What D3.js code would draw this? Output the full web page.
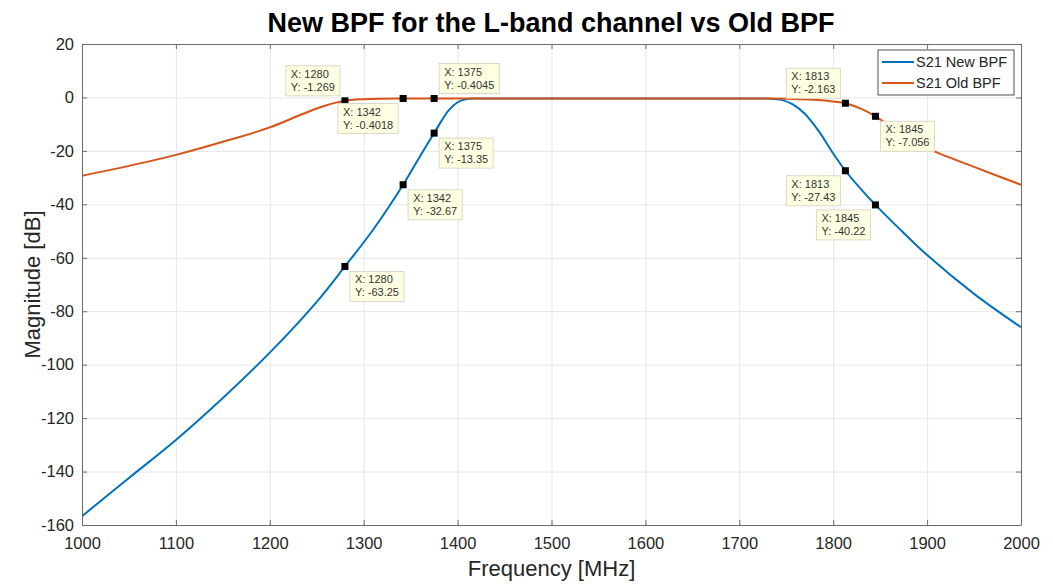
<!DOCTYPE html>
<html lang="en">
<head>
<meta charset="UTF-8">
<title>New BPF vs Old BPF</title>
<script src="https://d3js.org/d3.v7.min.js"></script>
<style>
    body { margin: 0; background: #fff; font-family: "Liberation Sans", Arial, sans-serif; }
    .tick text { fill: #262626; }
    .grid line { stroke: #e6e6e6; }
    .grid path { display: none; }
</style>
</head>
<body>
<div id="chart"></div>
<script>
// ---- data ----
const newFreq = [1000, 1050, 1100, 1150, 1200, 1250, 1280, 1310, 1342, 1360, 1375, 1390, 1400, 1410, 1420,
                 1500, 1600, 1700, 1730, 1745, 1757, 1770, 1785, 1800, 1813, 1830, 1845, 1870, 1900, 1950, 2000];
const newMag  = [-156.7, -142.4, -128.2, -112.5, -95.5, -76.5, -63.25, -49.5, -32.67, -22, -13.35, -5, -1.8, -0.6, -0.42,
                 -0.4, -0.4, -0.4, -0.42, -0.9, -2.6, -6.2, -12.8, -21, -27.43, -34.5, -40.22, -49, -59, -73.5, -86];

const oldFreq = [1000, 1050, 1100, 1150, 1200, 1235, 1257, 1280, 1300, 1320, 1342, 1375, 1400,
                 1500, 1600, 1700, 1750, 1780, 1800, 1813, 1830, 1845, 1870, 1900, 1950, 2000];
const oldMag  = [-29.3, -25.6, -21.5, -16.6, -11.2, -6.2, -3.3, -1.269, -0.65, -0.45, -0.4018, -0.4045, -0.4,
                 -0.4, -0.4, -0.4, -0.45, -0.9, -1.5, -2.163, -4.3, -7.056, -13, -19, -26, -32.7];

const seriesNames = ["S21 New BPF", "S21 Old BPF"];
const seriesColors = ["#0072BD", "#D95319"];

// datatips: which series, X, Y, where the box sits relative to the marker
const tipSeries = [1, 1, 1, 0, 0, 0, 1, 1, 0, 0];
const tipX      = [1280, 1342, 1375, 1375, 1342, 1280, 1813, 1845, 1813, 1845];
const tipY      = [-1.269, -0.4018, -0.4045, -13.35, -32.67, -63.25, -2.163, -7.056, -27.43, -40.22];
const tipPlace  = ["ul", "ll", "ur", "lr", "lr", "lr", "ul", "lr", "ll", "ll"];

const xTicks = d3.range(1000, 2001, 100);
const yTicks = d3.range(-160, 21, 20);

// ---- layout ----
const W = 1053, H = 584;
const margin = { top: 44, right: 32, bottom: 59, left: 82 };
const width = W - margin.left - margin.right;
const height = H - margin.top - margin.bottom;

const svg = d3.select("#chart").append("svg")
    .attr("width", W).attr("height", H);

const g = svg.append("g").attr("transform", `translate(${margin.left},${margin.top})`);

const x = d3.scaleLinear().domain([1000, 2000]).range([0, width]);
const y = d3.scaleLinear().domain([-160, 20]).range([height, 0]);

// grid
g.append("g").attr("class", "grid")
    .attr("transform", `translate(0,${height})`)
    .call(d3.axisBottom(x).tickValues(xTicks).tickSize(-height).tickFormat(""));
g.append("g").attr("class", "grid")
    .call(d3.axisLeft(y).tickValues(yTicks).tickSize(-width).tickFormat(""));

// curves
const line = d3.line().x(d => x(d[0])).y(d => y(d[1])).curve(d3.curveCatmullRom.alpha(0.5));
const series = [d3.zip(newFreq, newMag), d3.zip(oldFreq, oldMag)];

g.append("defs").append("clipPath").attr("id", "clip")
    .append("rect").attr("width", width).attr("height", height);

series.forEach((s, i) => {
    g.append("path")
        .datum(s)
        .attr("clip-path", "url(#clip)")
        .attr("fill", "none")
        .attr("stroke", seriesColors[i])
        .attr("stroke-width", 2)
        .attr("d", line);
});

// axes (box with inward ticks on all sides)
const axisColor = "#6b6b6b";
const fmt = d => String(d);
const axBottom = g.append("g").attr("transform", `translate(0,${height})`)
    .call(d3.axisBottom(x).tickValues(xTicks).tickSizeInner(-5).tickSizeOuter(0).tickPadding(12).tickFormat(fmt));
const axLeft = g.append("g")
    .call(d3.axisLeft(y).tickValues(yTicks).tickSizeInner(-5).tickSizeOuter(0).tickPadding(8).tickFormat(fmt));
const axTop = g.append("g")
    .call(d3.axisTop(x).tickValues(xTicks).tickSizeInner(-5).tickSizeOuter(0).tickFormat(""));
const axRight = g.append("g").attr("transform", `translate(${width},0)`)
    .call(d3.axisRight(y).tickValues(yTicks).tickSizeInner(-5).tickSizeOuter(0).tickFormat(""));
[axBottom, axLeft, axTop, axRight].forEach(a => {
    a.selectAll("path, line").attr("stroke", axisColor);
    a.selectAll("text").style("font-size", "16.5px").style("font-family", "Liberation Sans, Arial, sans-serif");
});

// datatips
const tipLayer = g.append("g");
tipX.forEach((tx, i) => {
    const mx = x(tx), my = y(tipY[i]);
    const tg = tipLayer.append("g");
    const box = tg.append("rect").attr("fill", "#ffffe1").attr("stroke", "#d9d9c8").attr("stroke-width", 1);
    const t1 = tg.append("text").text("X: " + tx);
    const t2 = tg.append("text").text("Y: " + tipY[i]);
    [t1, t2].forEach(t => t.style("font-size", "11px").attr("fill", "#333")
        .style("font-family", "Liberation Sans, Arial, sans-serif"));
    const bw = Math.max(t1.node().getComputedTextLength(), t2.node().getComputedTextLength()) + 10;
    const bh = 30;
    const gap = 5;
    const p = tipPlace[i];
    const bx = p[1] === "l" ? mx - gap - bw : mx + gap;
    const by = p[0] === "u" ? my - gap - bh : my + gap;
    box.attr("x", bx).attr("y", by).attr("width", bw).attr("height", bh);
    t1.attr("x", bx + 5).attr("y", by + 12);
    t2.attr("x", bx + 5).attr("y", by + 25);
    tipLayer.append("rect")
        .attr("x", mx - 3.5).attr("y", my - 3.5)
        .attr("width", 7).attr("height", 7)
        .attr("fill", "#000");
});

// legend
const lg = g.append("g").attr("transform", `translate(${width - 143},6)`);
lg.append("rect").attr("width", 136).attr("height", 45)
    .attr("fill", "#fff").attr("stroke", "#262626").attr("stroke-width", 0.8);
seriesNames.forEach((name, i) => {
    const ly = 12 + i * 21;
    lg.append("line").attr("x1", 4).attr("x2", 36).attr("y1", ly).attr("y2", ly)
        .attr("stroke", seriesColors[i]).attr("stroke-width", 2);
    lg.append("text").attr("x", 38).attr("y", ly + 5).text(name)
        .style("font-size", "14.5px").attr("fill", "#262626");
});

// labels
svg.append("text")
    .attr("x", 551).attr("y", 32)
    .attr("text-anchor", "middle")
    .style("font-size", "27px").style("font-weight", "bold").attr("fill", "#000")
    .text("New BPF for the L-band channel vs Old BPF");

svg.append("text")
    .attr("x", margin.left + width / 2).attr("y", 576)
    .attr("text-anchor", "middle")
    .style("font-size", "22px").attr("fill", "#262626")
    .text("Frequency [MHz]");

svg.append("text")
    .attr("transform", `translate(40,${margin.top + height / 2}) rotate(-90)`)
    .attr("text-anchor", "middle")
    .style("font-size", "22px").attr("fill", "#262626")
    .text("Magnitude [dB]");
</script>
</body>
</html>
